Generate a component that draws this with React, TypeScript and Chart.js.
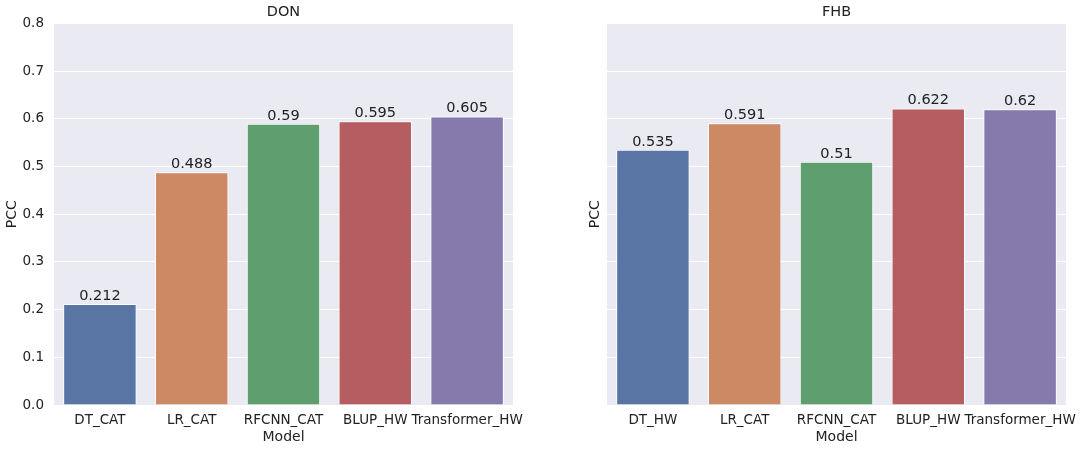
import React, { useEffect, useRef } from "react";
import { Chart, registerables } from "chart.js";

Chart.register(...registerables);

const donCategories = ["DT_CAT", "LR_CAT", "RFCNN_CAT", "BLUP_HW", "Transformer_HW"];
const donValues = [0.212, 0.488, 0.59, 0.595, 0.605];
const fhbCategories = ["DT_HW", "LR_CAT", "RFCNN_CAT", "BLUP_HW", "Transformer_HW"];
const fhbValues = [0.535, 0.591, 0.51, 0.622, 0.62];
const barColors = ["#5975a4", "#cc8963", "#5f9e6e", "#b55d60", "#857aab"];
const yTicksMax = 0.8;
const yStep = 0.1;

const FONT = "'DejaVu Sans', sans-serif";
const TEXT = "#222222";

const bgPlugin = {
  id: "bgPlugin",
  beforeDraw(chart: any) {
    const { ctx, chartArea } = chart;
    ctx.save();
    ctx.fillStyle = "#EAEAF2";
    ctx.fillRect(chartArea.left, chartArea.top, chartArea.right - chartArea.left, chartArea.bottom - chartArea.top);
    ctx.restore();
  },
};

const valueLabelPlugin = {
  id: "valueLabelPlugin",
  afterDatasetsDraw(chart: any) {
    const { ctx } = chart;
    const meta = chart.getDatasetMeta(0);
    const data = chart.data.datasets[0].data;
    ctx.save();
    ctx.font = `14.5px ${FONT}`;
    ctx.fillStyle = TEXT;
    ctx.textAlign = "center";
    ctx.textBaseline = "alphabetic";
    meta.data.forEach((bar: any, i: number) => {
      ctx.fillText(String(data[i]), bar.x, bar.y - 4);
    });
    ctx.restore();
  },
};

function makeConfig(title: string, labels: string[], values: number[], right: boolean): any {
  return {
    type: "bar",
    data: {
      labels,
      datasets: [
        {
          data: values,
          backgroundColor: barColors,
          borderColor: "#ffffff",
          borderWidth: 1,
          borderSkipped: "start",
          categoryPercentage: 0.8,
          barPercentage: 1.0,
        },
      ],
    },
    options: {
      animation: false,
      responsive: false,
      maintainAspectRatio: false,
      layout: { padding: { top: 0, left: 0, right: right ? 18 : 27, bottom: 0 } },
      plugins: {
        legend: { display: false },
        tooltip: { enabled: false },
        title: {
          display: true,
          text: title,
          fullSize: false,
          color: TEXT,
          font: { family: FONT, size: 14.5, weight: "normal" },
          padding: { top: 3.8, bottom: 2.3 },
        },
      },
      scales: {
        x: {
          type: "category",
          offset: true,
          grid: { display: false, drawTicks: false },
          border: { display: false },
          ticks: {
            color: TEXT,
            font: { family: FONT, size: 13.5 },
            padding: 7.4,
            maxRotation: 0,
            minRotation: 0,
            autoSkip: false,
          },
          title: {
            display: true,
            text: "Model",
            color: TEXT,
            font: { family: FONT, size: 14 },
            padding: { top: 0, bottom: 4.6 },
          },
          afterFit(scale: any) {
            scale.height = 45;
            scale.paddingLeft = 0;
            scale.paddingRight = 0;
          },
        },
        y: {
          min: 0,
          max: yTicksMax,
          grid: { color: "#ffffff", lineWidth: 1, drawTicks: false },
          border: { display: false },
          ticks: {
            display: !right,
            stepSize: yStep,
            color: TEXT,
            font: { family: FONT, size: 13.5 },
            padding: 10,
            callback: (v: any) => Number(v).toFixed(1),
          },
          title: {
            display: true,
            text: "PCC",
            color: TEXT,
            font: { family: FONT, size: 14 },
            padding: { top: right ? 46.6 : 3.6, bottom: 0 },
          },
          afterFit(scale: any) {
            scale.width = right ? 67 : 54;
            scale.paddingTop = 0;
            scale.paddingBottom = 0;
          },
        },
      },
    },
    plugins: [bgPlugin, valueLabelPlugin],
  };
}

function BarPanel(props: { title: string; labels: string[]; values: number[]; right: boolean; width: number; left: number }) {
  const ref = useRef<HTMLCanvasElement | null>(null);
  useEffect(() => {
    if (!ref.current) return;
    const chart = new Chart(ref.current, makeConfig(props.title, props.labels, props.values, props.right));
    return () => chart.destroy();
  }, []);
  return (
    <div style={{ position: "absolute", left: props.left, top: 0, width: props.width, height: 450 }}>
      <canvas ref={ref} width={props.width} height={450} style={{ width: props.width, height: 450, display: "block" }} />
    </div>
  );
}

export default function App() {
  return (
    <div style={{ position: "fixed", left: 0, top: 0, width: 1084, height: 450, background: "#ffffff", overflow: "hidden" }}>
      <BarPanel title="DON" labels={donCategories} values={donValues} right={false} width={540} left={0} />
      <BarPanel title="FHB" labels={fhbCategories} values={fhbValues} right={true} width={544} left={540} />
    </div>
  );
}
